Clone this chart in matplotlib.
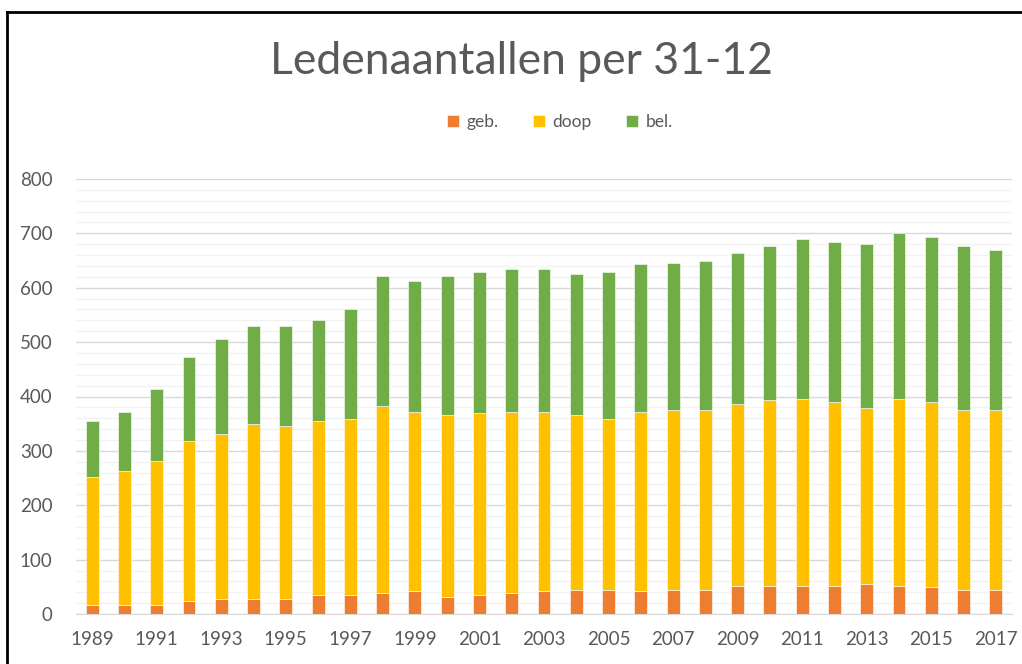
import numpy as np
import matplotlib.pyplot as plt
from matplotlib.lines import Line2D
from matplotlib.ticker import MultipleLocator

plt.rcParams["font.family"] = ["Lato", "DejaVu Sans"]

# member counts per 31-12 (stacked segments)
years = list(range(1989, 2018))
geb = [17, 17, 17, 24, 28, 28, 28, 35, 35, 39, 42, 32, 35, 39, 42, 45, 45, 42, 45, 45,
       52, 52, 52, 52, 56, 52, 49, 45, 45]
doop = [235, 246, 264, 294, 303, 321, 317, 320, 323, 344, 330, 334, 334, 333, 330, 321,
        313, 330, 331, 331, 335, 341, 344, 338, 323, 344, 341, 331, 331]
bel = [103, 109, 132, 154, 175, 181, 185, 185, 203, 239, 240, 256, 260, 263, 263, 260,
       271, 271, 270, 274, 276, 284, 294, 294, 302, 305, 304, 301, 294]

c_geb = "#ED7D31"
c_doop = "#FFC000"
c_bel = "#70AD47"
txt = "#595959"

fig = plt.figure(figsize=(10.22, 6.64), dpi=100)
ax = fig.add_axes([76/1022, 1 - 614/664, (1012-76)/1022, (614-179)/664])

x = np.arange(len(years))
geb = np.array(geb)
doop = np.array(doop)
bel = np.array(bel)
w = 0.4
ax.bar(x, geb, w, color=c_geb, label="geb.", edgecolor="white", linewidth=0.4, zorder=3)
ax.bar(x, doop, w, bottom=geb, color=c_doop, label="doop", edgecolor="white", linewidth=0.4, zorder=3)
ax.bar(x, bel, w, bottom=geb+doop, color=c_bel, label="bel.", edgecolor="white", linewidth=0.4, zorder=3)

ax.set_xlim(-0.5, len(years) - 0.5)
ax.set_ylim(0, 800)
ax.yaxis.set_major_locator(MultipleLocator(100))
ax.yaxis.set_minor_locator(MultipleLocator(20))
ax.grid(axis="y", which="major", color="#D9D9D9", linewidth=1, zorder=0)
ax.grid(axis="y", which="minor", color="#F2F2F2", linewidth=1, zorder=0)
ax.set_xticks(x[::2])
ax.set_xticklabels([str(y) for y in years[::2]])
for s in ["top", "right", "left"]:
    ax.spines[s].set_visible(False)
ax.spines["bottom"].set_color("#D9D9D9")
ax.tick_params(axis="both", which="both", length=0, colors=txt, labelsize=13.5)
ax.tick_params(axis="x", pad=12)
ax.tick_params(axis="y", pad=17)

fig.text(521/1022, 1 - 62/664, "Ledenaantallen per 31-12", ha="center", va="center",
         fontsize=32, color=txt)
fig.legend(loc="center", bbox_to_anchor=(560/1022, 1 - 122/664), ncol=3, frameon=False,
           fontsize=12.5, labelcolor=txt, handlelength=0.7, handleheight=0.7,
           columnspacing=2.0, handletextpad=0.4)

# border of the chart area (cropped on the right and bottom)
fig.add_artist(Line2D([7/1022, 1], [1 - 12/664, 1 - 12/664], color="black", linewidth=2))
fig.add_artist(Line2D([7/1022, 7/1022], [0, 1 - 12/664], color="black", linewidth=2))

fig.savefig("out.png", dpi=100)
